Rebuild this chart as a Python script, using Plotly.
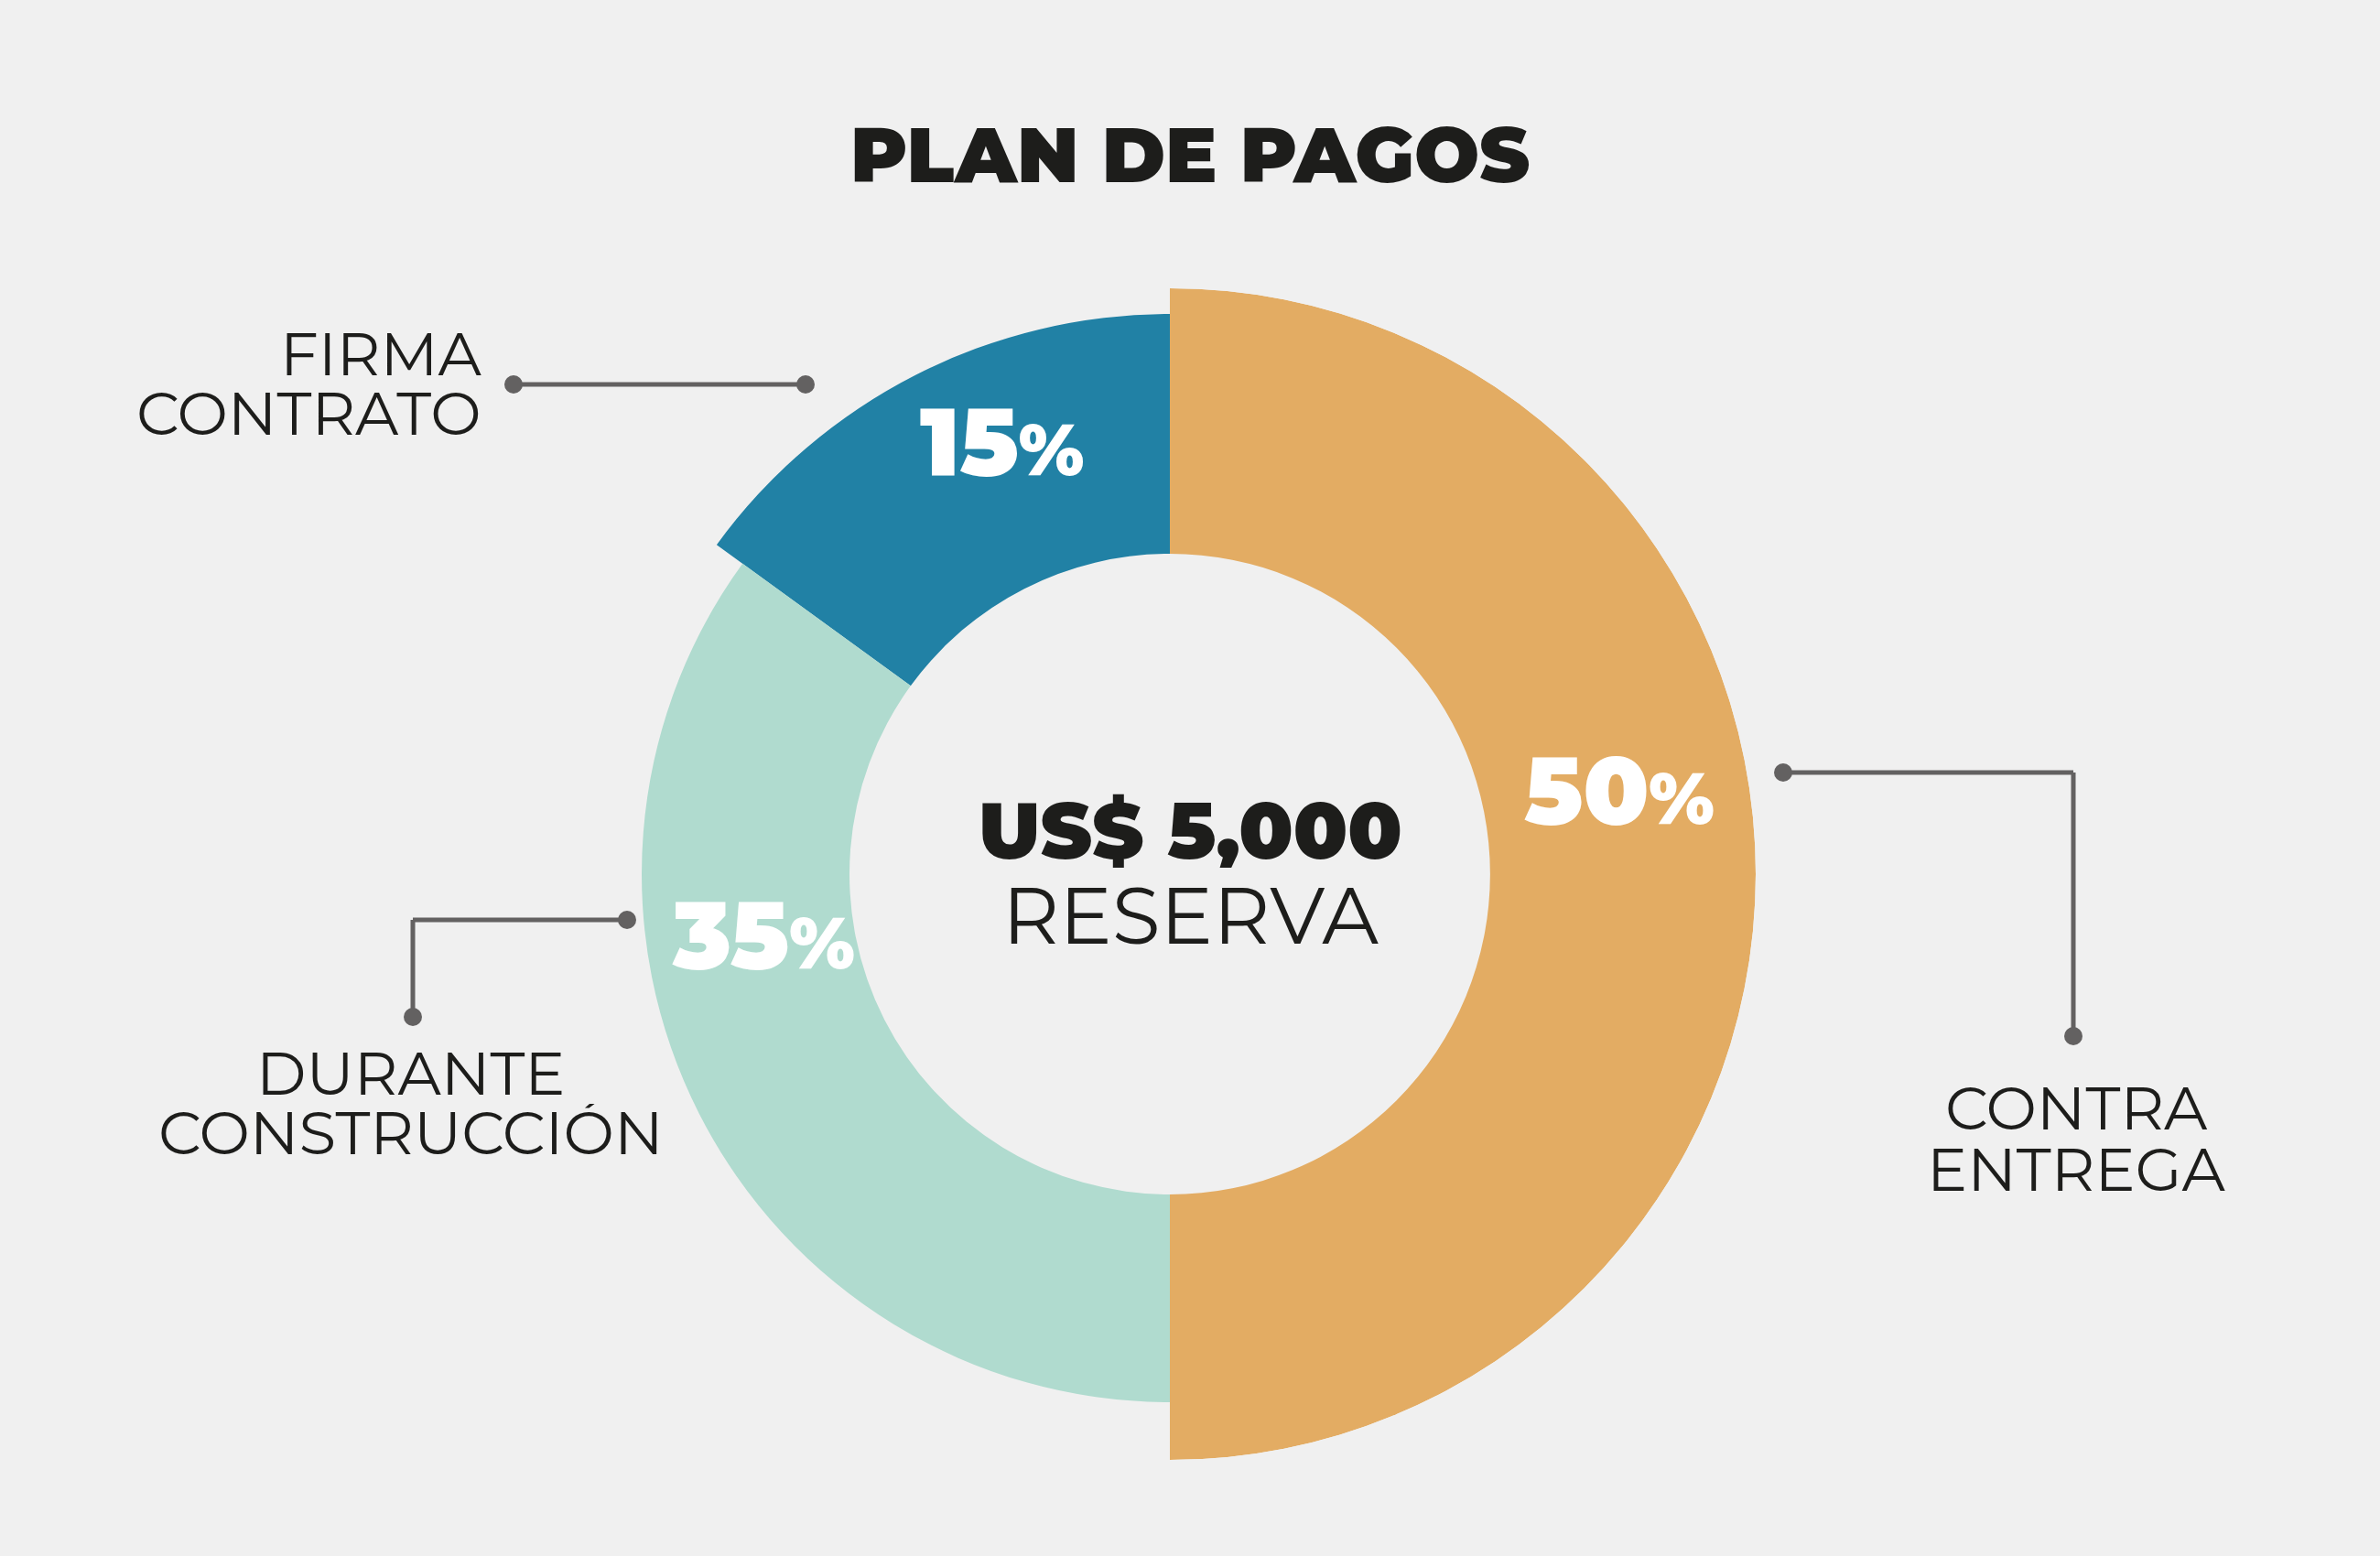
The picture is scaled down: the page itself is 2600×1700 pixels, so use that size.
import plotly.graph_objects as go

# ---- data ----
stages = ["FIRMA CONTRATO", "DURANTE CONSTRUCCIÓN", "CONTRA ENTREGA"]
shares = [15, 35, 50]
pct_labels = ["15", "35", "50"]
title_text = "PLAN DE PAGOS"
center_amount = "US$ 5,000"
center_label = "RESERVA"

# ---- style ----
colors = ["#2181A5", "#B0DBCF", "#E3AC63"]
outer_r = [612, 577, 640]
inner_r = 350
W, H = 2600, 1700
CX, CY = 1278, 955          # pixel centre of the ring
R = 640                     # polar radius in px
BG = "#f0f0f0"
DARK = "#1d1d1b"
LINE = "#636161"
FONT = "Montserrat, Inter, Lato, sans-serif"

# angular positions from the shares (clockwise from top, 50% starts at top)
order = [2, 1, 0]
start = 0.0
thetas, widths = [0]*3, [0]*3
for i in order:
    w = shares[i] / sum(shares) * 360
    thetas[i] = start + w / 2
    widths[i] = w
    start += w

fig = go.Figure()
fig.add_trace(go.Barpolar(
    theta=thetas,
    width=widths,
    base=[inner_r]*3,
    r=[o - inner_r for o in outer_r],
    marker=dict(color=colors, line=dict(width=0)),
    hoverinfo="skip",
    showlegend=False,
))

def px(x):
    return x / W

def py(y):
    return 1 - y / H

fig.update_layout(
    width=W, height=H,
    margin=dict(l=0, r=0, t=0, b=0),
    paper_bgcolor=BG, plot_bgcolor=BG,
    polar=dict(
        domain=dict(x=[px(CX - R), px(CX + R)], y=[py(CY + R), py(CY - R)]),
        bgcolor="rgba(0,0,0,0)",
        radialaxis=dict(range=[0, R], visible=False, showgrid=False),
        angularaxis=dict(direction="clockwise", rotation=90, visible=False,
                         showgrid=False),
        bargap=0,
    ),
)

ann = []
def text(x, y, s, size, weight=400, color=DARK, xanchor="center"):
    ann.append(dict(x=px(x), y=py(y), xref="paper", yref="paper", text=s,
                    showarrow=False, xanchor=xanchor, yanchor="middle",
                    height=int(size * 0.95),
                    font=dict(size=size, color=color, family=FONT, weight=weight)))

# title
text(1300, 168, title_text, 84, 900)
# centre
text(1300, 908, center_amount, 86, 900)
text(1300, 1000, center_label, 86, 400)

# percentages
pct_pos = [(1094, 481), (834, 1020), (1769, 862)]
for (x, y), p in zip(pct_pos, pct_labels):
    text(x, y, f"{p}<span style='font-size:78px'>%</span>", 104, 900,
         color="white")

# stage labels
text(528, 386, stages[0].split()[0], 66, 400, xanchor="right")
text(528, 451, stages[0].split()[1], 66, 400, xanchor="right")
text(449, 1172, stages[1].split()[0], 66, 400)
text(449, 1237, stages[1].split()[1], 66, 400)
text(2268, 1210, stages[2].split()[0], 66, 400)
text(2268, 1277, stages[2].split()[1], 66, 400)
fig.update_layout(annotations=ann)

# connectors
shapes = []
def seg(x0, y0, x1, y1):
    shapes.append(dict(type="line", xref="paper", yref="paper",
                       x0=px(x0), y0=py(y0), x1=px(x1), y1=py(y1),
                       line=dict(color=LINE, width=5)))
def dot(x, y, r=10):
    shapes.append(dict(type="circle", xref="paper", yref="paper",
                       x0=px(x - r), x1=px(x + r), y0=py(y + r), y1=py(y - r),
                       fillcolor=LINE, line=dict(width=0)))

seg(561, 420, 880, 420); dot(561, 420); dot(880, 420)
seg(685, 1005, 451, 1005); seg(451, 1005, 451, 1111); dot(685, 1005); dot(451, 1111)
seg(1948, 844, 2265, 844); seg(2265, 844, 2265, 1132); dot(1948, 844); dot(2265, 1132)
fig.update_layout(shapes=shapes)

fig.write_html("out.html")
